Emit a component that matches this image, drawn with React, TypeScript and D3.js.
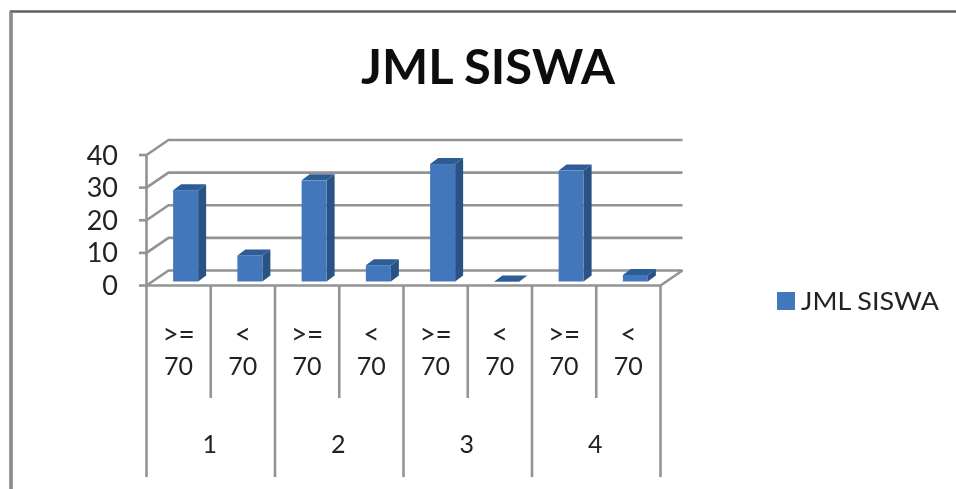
import React from "react";
import * as d3 from "d3";

const groups = ["1", "2", "3", "4"];
const subLines = [">=|70", "<|70", ">=|70", "<|70", ">=|70", "<|70", ">=|70", "<|70"];
const values = [28, 8, 31, 5, 36, 0, 34, 2];
const yTicks = [0, 10, 20, 30, 40];
const seriesName = "JML SISWA";
const title = "JML SISWA";

const W = 956, H = 489;
const x = d3.scaleBand<number>().domain(d3.range(values.length)).range([146.5, 660.5]).paddingInner(0).paddingOuter(0);
const gx = d3.scaleBand<string>().domain(groups).range([146.5, 660.5]);
const y = d3.scaleLinear().domain([0, 40]).range([285.5, 155]);
const DX = 22, DY = -15; // floor depth
const AXIS = "#939393";
const SW = 2.6;
const barW = 25, bdx = 8, bdy = -6, barOffX = 7, barOffY = -4;

export default function App() {
  return (
    <svg width={W} height={H} viewBox={`0 0 ${W} ${H}`}
      style={{ position: "absolute", left: 0, top: 0, background: "#fff", fontFamily: "Lato, 'Open Sans', sans-serif" }}>
      <defs>
        <filter id="soft" x="-5%" y="-5%" width="110%" height="110%"><feGaussianBlur stdDeviation="0.6" /></filter>
      </defs>
      <g filter="url(#soft)">
        <path d={`M11 489V11.5H956`} fill="none" stroke="#606060" strokeWidth={2.5} />
        <path d={`M11 489V12`} fill="none" stroke="#8c8c8c" strokeWidth={3.5} />
        {/* walls */}
        {yTicks.map((t) => (
          <g key={t}>
            <path d={`M146.5 ${y(t)}L${146.5 + DX} ${y(t) + DY}H${660.5 + DX}`} fill="none" stroke={AXIS} strokeWidth={SW} />
            <line x1={139} x2={146.5} y1={y(t)} y2={y(t)} stroke={AXIS} strokeWidth={SW} />
            <text x={118} y={y(t) + 9.5} fontSize={27} textAnchor="end" fill="#222">{t}</text>
          </g>
        ))}
        <line x1={146.5} x2={146.5} y1={y(40)} y2={285.5} stroke={AXIS} strokeWidth={SW} />
        <line x1={146.5} x2={660.5} y1={285.5} y2={285.5} stroke={AXIS} strokeWidth={SW} />
        <line x1={660.5} x2={660.5 + DX} y1={285.5} y2={285.5 + DY} stroke={AXIS} strokeWidth={SW} />
        {/* bars */}
        {values.map((v, i) => {
          const cx = x(i)! + x.bandwidth() / 2 + barOffX;
          const l = cx - barW / 2, r = cx + barW / 2;
          const top = y(v) + barOffY, base = y(0) + barOffY;
          return (
            <g key={i}>
              <path d={`M${r} ${base}L${r + bdx} ${base + bdy}V${top + bdy}L${r} ${top}Z`} fill="#2c5385" />
              <path d={`M${l} ${top}L${l + bdx} ${top + bdy}H${r + bdx}L${r} ${top}Z`} fill="#2f5b94" />
              <rect x={l} y={top} width={barW} height={Math.max(base - top, 0.5)} fill="#4278bb" />
            </g>
          );
        })}
        {/* multi-level axis */}
        {values.map((_, i) => {
          const [a, b] = subLines[i].split("|");
          const cx = x(i)! + x.bandwidth() / 2;
          return (
            <g key={i} textAnchor="middle" fill="#222">
              <text x={cx} y={344} fontSize={28}>{a}</text>
              <text x={cx} y={375} fontSize={25}>{b}</text>
            </g>
          );
        })}
        {d3.range(values.length + 1).map((i) => {
          const px = 146.5 + i * x.bandwidth();
          return <line key={i} x1={px} x2={px} y1={285.5} y2={i % 2 === 0 ? 477 : 398} stroke={AXIS} strokeWidth={SW} />;
        })}
        {groups.map((g) => (
          <text key={g} x={gx(g)! + gx.bandwidth() / 2 - 1} y={453} fontSize={25} textAnchor="middle" fill="#222">{g}</text>
        ))}
        {/* title */}
        <text x={488} y={84} fontSize={47} fontWeight={700} textAnchor="middle" fill="#111" textLength={254} lengthAdjust="spacingAndGlyphs">{title}</text>
        {/* legend */}
        <rect x={777} y={292} width={18} height={18} fill="#4278bb" />
        <text x={801} y={310} fontSize={25} fill="#222" textLength={138} lengthAdjust="spacingAndGlyphs">{seriesName}</text>
      </g>
    </svg>
  );
}
